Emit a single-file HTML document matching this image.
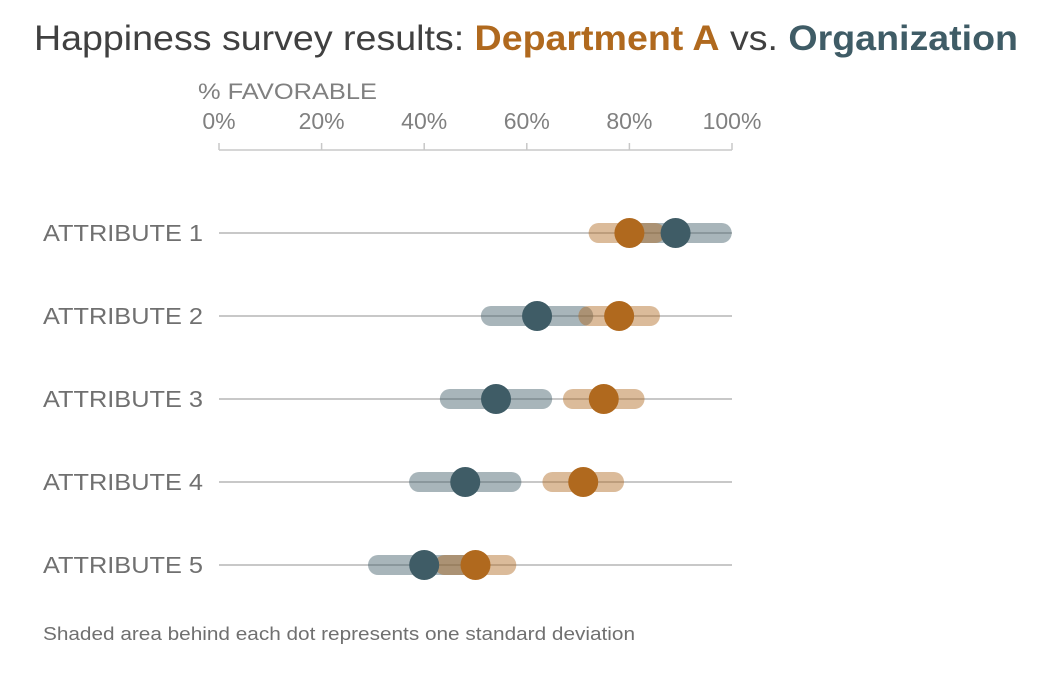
<!DOCTYPE html>
<html><head><meta charset="utf-8"><style>
body{margin:0;background:#fff;font-family:"Liberation Sans",sans-serif}
</style></head><body>
<svg width="1041" height="674" viewBox="0 0 1041 674">
<text x="34" y="50" font-size="35" fill="#404040" textLength="984" lengthAdjust="spacingAndGlyphs">Happiness survey results: <tspan fill="#B0691E" font-weight="bold">Department A</tspan> vs. <tspan fill="#3F5C66" font-weight="bold">Organization</tspan></text>
<text x="198" y="99" font-size="22" fill="#808080" textLength="179" lengthAdjust="spacingAndGlyphs">% FAVORABLE</text>
<g id="axis"></g>
<g id="rows"></g>
<text x="43" y="640" font-size="18" fill="#707070" textLength="592" lengthAdjust="spacingAndGlyphs">Shaded area behind each dot represents one standard deviation</text>
</svg>
<script>
const categories=["ATTRIBUTE 1","ATTRIBUTE 2","ATTRIBUTE 3","ATTRIBUTE 4","ATTRIBUTE 5"];
const deptValues=[80,78,75,71,50];
const deptLo=[74,72,69,65,44];
const deptHi=[85,84,81,77,56];
const orgValues=[89,62,54,48,40];
const orgLo=[82,53,45,39,31];
const orgHi=[98,71,63,57,50];
const ticks=[0,20,40,60,80,100];
const NS="http://www.w3.org/2000/svg";
const x=v=>219+v*5.13;
const y=i=>233+i*83;
function mk(p,tag,a){const e=document.createElementNS(NS,tag);for(const k in a)e.setAttribute(k,a[k]);p.appendChild(e);return e;}
const ax=document.getElementById('axis');
let l=mk(ax,'line',{x1:x(0),x2:x(100),y1:150,y2:150,stroke:'#c8c8c8','stroke-width':1.5});


ticks.forEach(t=>{
 const tk=mk(ax,'line',{x1:x(t),x2:x(t),y1:143,y2:150,stroke:'#c8c8c8','stroke-width':1.5});
 
 
 const tx=mk(ax,'text',{x:x(t),y:129,'font-size':23,fill:'#808080','text-anchor':'middle'});
 tx.textContent=t+'%';
 
 
});
const rows=document.getElementById('rows');
categories.forEach((c,i)=>{
 const g=mk(rows,'g',{});
 
 
 const lb=mk(g,'text',{x:43,y:y(i)+8,'font-size':23,fill:'#707070',textLength:160,lengthAdjust:'spacingAndGlyphs'});
 lb.textContent=c;
 
 
 const gl=mk(g,'line',{x1:x(0),x2:x(100),y1:y(i),y2:y(i),stroke:'#c8c8c8','stroke-width':2});
 
 
 const ob=mk(g,'rect',{x:x(orgLo[i])-10,y:y(i)-10,width:x(orgHi[i])-x(orgLo[i])+20,height:20,rx:10,fill:'#3F5C66','fill-opacity':0.45});
 
 
 const db=mk(g,'rect',{x:x(deptLo[i])-10,y:y(i)-10,width:x(deptHi[i])-x(deptLo[i])+20,height:20,rx:10,fill:'#B0691E','fill-opacity':0.45});
 
 
 const od=mk(g,'circle',{cx:x(orgValues[i]),cy:y(i),r:15,fill:'#3F5C66'});
 
 
 const dd=mk(g,'circle',{cx:x(deptValues[i]),cy:y(i),r:15,fill:'#B0691E'});
 
 
});
</script>
</body></html>
